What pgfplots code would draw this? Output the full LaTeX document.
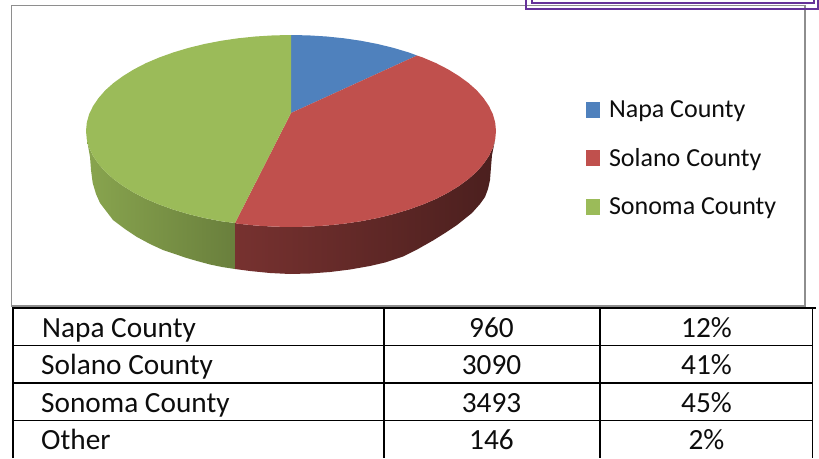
\documentclass[border=0pt]{standalone}
\usepackage{pgfplots}
\pgfplotsset{compat=1.18}
\usepackage{fontspec}
\setmainfont{Carlito}
\definecolor{napa}{HTML}{4F81BD}
\definecolor{solano}{HTML}{C0504D}
\definecolor{sonoma}{HTML}{9BBB59}
\definecolor{framegrey}{HTML}{8E8E8E}
\definecolor{boxpurple}{HTML}{663399}
\newcommand{\cell}[3]{\node[anchor=base,inner sep=0pt,text=black!95] at (axis cs:#1,#2) {\fontsize{29.3}{29.3}\selectfont #3};}
\newcommand{\lcell}[3]{\node[anchor=base west,inner sep=0pt,text=black!95] at (axis cs:#1,#2) {\fontsize{29.3}{29.3}\selectfont #3};}
\begin{document}
\begin{tikzpicture}
\useasboundingbox (0,0) rectangle (819pt,458pt);
\begin{axis}[
  at={(0,0)}, anchor=south west,
  scale only axis, width=819pt, height=458pt,
  xmin=0, xmax=819, ymin=0, ymax=458, y dir=reverse,
  hide axis, no markers,
  legend style={draw=none, fill=none, at={(axis cs:586,100)}, anchor=north west,
    font=\fontsize{26}{26}\selectfont, row sep=27.3pt, inner sep=0pt, outer sep=0pt,
    legend cell align=left, nodes={inner sep=1pt, text=black!95},
    /tikz/every odd column/.append style={column sep=8pt}},
  legend image code/.code={\fill[#1] (0pt,-8pt) rectangle (14pt,8pt);},
]
% chart frame
\addplot[forget plot, draw=framegrey, line width=1.8pt] coordinates {(11.5,5.5) (805,5.5) (805,306) (11.5,306)} -- cycle;
% purple boxes
\addplot[forget plot, draw=boxpurple, line width=2pt] coordinates {(525.5,0) (525.5,8.5) (817.5,8.5) (817.5,0)};
\addplot[forget plot, draw=boxpurple, line width=2pt] coordinates {(531.5,0) (531.5,3) (814,3) (814,0)};
% side of the pie: green
\addplot[forget plot, draw=none, left color=sonoma!88!black, right color=sonoma!68!black] coordinates {
 (235,223) (220.9,221.2) (204.4,218) (188.5,214.1) (173.4,209.6) (159.2,204.5) (146,198.9) (134,192.7) (123.1,186) (113.5,179) (105.2,171.6) (98.4,163.8) (93,155.8) (89.1,147.7) (87,140)
 (90,157) (91,170) (92.7,183) (96,194) (100,203) (113,220) (125,229) (137,237) (150,244) (163,250) (175,254) (185,257.5) (197,261) (210,264.5) (222,267) (235,269)} -- cycle;
% side of the pie: red
\addplot[forget plot, draw=none, left color=solano!62!black, middle color=solano!39!black, right color=solano!39!black] coordinates {
 (235,223) (237.9,223.7) (255.4,225.5) (273.1,226.6) (291,227) (308.9,226.6) (326.6,225.5) (344.1,223.7) (361.1,221.2) (377.6,218) (393.5,214.1) (408.6,209.6) (422.8,204.5) (436,198.9) (448,192.7) (458.9,186) (468.5,179) (476.8,171.6) (483.6,163.8) (489,155.8) (492.9,147.7) (495,140)
 (492,155) (491,167) (490,180) (488,189) (485,197) (480,204) (472,213) (457,225) (445,233) (433,240.5) (418,249) (403,256.5) (385,262.5) (370,266) (350,269.5) (330,272) (310,273.5) (290,274) (270,273) (250,271) (235,269)} -- cycle;
% top of the pie
\addplot[draw=none, fill=napa] coordinates {
 (291,113) (291,35) (308.9,35.4) (326.6,36.5) (344.1,38.3) (361.1,40.8) (377.6,44) (393.5,47.9) (408.6,52.4) (417,55.5)} -- cycle;
\addlegendentry{Napa County}
\addplot[draw=none, fill=solano] coordinates {
 (291,113) (417,55.5) (422.8,57.5) (436,63.1) (448,69.3) (458.9,76) (468.5,83) (476.8,90.4) (483.6,98.2) (489,106.2) (492.9,114.3) (495.2,122.6) (496,131) (495.2,139.4) (492.9,147.7) (489,155.8) (483.6,163.8) (476.8,171.6) (468.5,179) (458.9,186) (448,192.7) (436,198.9) (422.8,204.5) (408.6,209.6) (393.5,214.1) (377.6,218) (361.1,221.2) (344.1,223.7) (326.6,225.5) (308.9,226.6) (291,227) (273.1,226.6) (255.4,225.5) (237.9,223.7) (235,223)} -- cycle;
\addlegendentry{Solano County}
\addplot[draw=none, fill=sonoma] coordinates {
 (291,113) (235,223) (220.9,221.2) (204.4,218) (188.5,214.1) (173.4,209.6) (159.2,204.5) (146,198.9) (134,192.7) (123.1,186) (113.5,179) (105.2,171.6) (98.4,163.8) (93,155.8) (89.1,147.7) (86.8,139.4) (86,131) (86.8,122.6) (89.1,114.3) (93,106.2) (98.4,98.2) (105.2,90.4) (113.5,83) (123.1,76) (134,69.3) (146,63.1) (159.2,57.5) (173.4,52.4) (188.5,47.9) (204.4,44) (220.9,40.8) (237.9,38.3) (255.4,36.5) (273.1,35.4) (291,35)} -- cycle;
\addlegendentry{Sonoma County}
% table rules
\addplot[forget plot, draw=black, line width=2.2pt] coordinates {(13,458) (13,308) (815.5,308)};
\addplot[forget plot, draw=black, line width=1.8pt] coordinates {(812.5,308) (812.5,458)};
\addplot[forget plot, draw=black, line width=1.5pt] coordinates {(384,308) (384,458)};
\addplot[forget plot, draw=black, line width=1.5pt] coordinates {(600,308) (600,458)};
\addplot[forget plot, draw=black, line width=1.5pt] coordinates {(13,345.7) (812.5,345.7)};
\addplot[forget plot, draw=black, line width=1.5pt] coordinates {(13,383) (812.5,383)};
\addplot[forget plot, draw=black, line width=1.5pt] coordinates {(13,420.7) (812.5,420.7)};
% table text
\lcell{42}{337}{Napa County}
\lcell{41}{374}{Solano County}
\lcell{41}{412}{Sonoma County}
\lcell{41}{449.5}{Other}
\cell{491.5}{337}{960}
\cell{491.5}{374}{3090}
\cell{491.5}{412}{3493}
\cell{491.5}{449.5}{146}
\cell{706.5}{337}{12\%}
\cell{706.5}{374}{41\%}
\cell{706.5}{412}{45\%}
\cell{706.5}{449.5}{2\%}
\end{axis}
\end{tikzpicture}
\end{document}
